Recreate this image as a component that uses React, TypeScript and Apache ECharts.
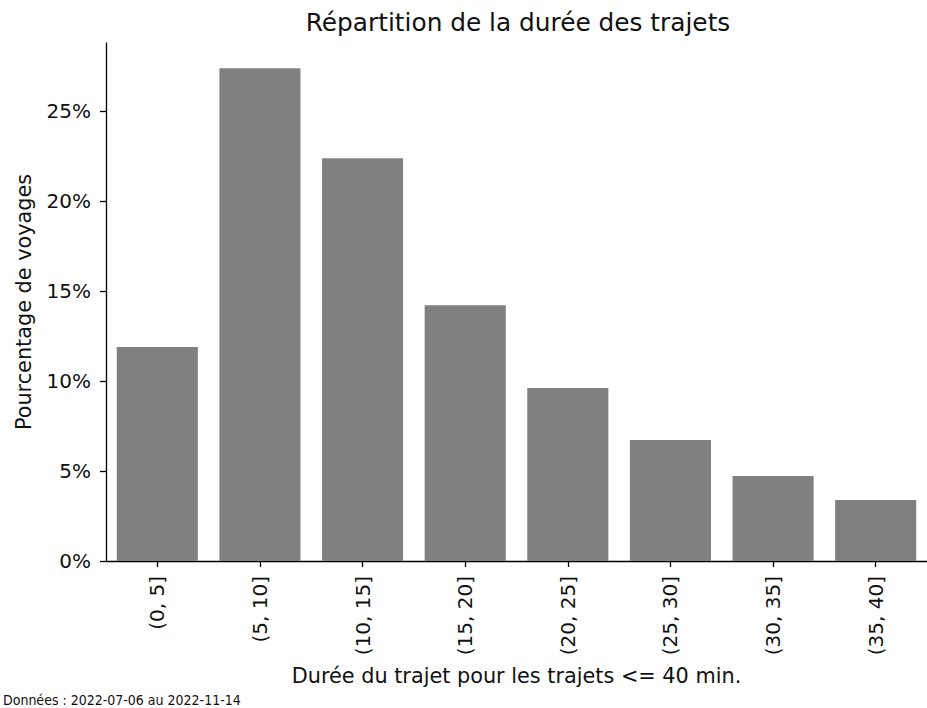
import React, { useEffect, useRef } from "react";
import * as echarts from "echarts";

const categories = ["(0, 5]", "(5, 10]", "(10, 15]", "(15, 20]", "(20, 25]", "(25, 30]", "(30, 35]", "(35, 40]"];
const percentages = [11.89, 27.39, 22.39, 14.22, 9.61, 6.72, 4.72, 3.39];
const yTicks = [0, 5, 10, 15, 20, 25];

const FONT = "'DejaVu Sans', sans-serif";

export default function App() {
  const ref = useRef<HTMLDivElement>(null);
  useEffect(() => {
    if (!ref.current) return;
    const chart = echarts.init(ref.current, null, { renderer: "svg" });
    chart.setOption({
      animation: false,
      backgroundColor: "#ffffff",
      textStyle: { fontFamily: FONT },
      grid: { left: 106, right: -4, top: 43, bottom: 147, containLabel: false },
      xAxis: {
        type: "category",
        data: categories,
        boundaryGap: true,
        name: "Durée du trajet pour les trajets <= 40 min.",
        nameLocation: "middle",
        nameGap: 104,
        nameTextStyle: { fontSize: 20.8, color: "#111", fontFamily: FONT },
        axisLine: { show: true, lineStyle: { color: "#000", width: 1.3 } },
        axisTick: { show: true, alignWithLabel: true, length: 6, lineStyle: { color: "#000", width: 1.3 } },
        axisLabel: { rotate: 90, margin: 15, fontSize: 20, color: "#111", fontFamily: FONT, interval: 0 },
        splitLine: { show: false },
      },
      yAxis: {
        type: "value",
        min: 0,
        max: 28.79,
        interval: 5,
        name: "Pourcentage de voyages",
        nameLocation: "middle",
        nameRotate: 90,
        nameGap: 72,
        nameTextStyle: { fontSize: 20.8, color: "#111", fontFamily: FONT },
        axisLine: { show: true, lineStyle: { color: "#000", width: 1.3 } },
        axisTick: { show: true, length: 6, customValues: yTicks, lineStyle: { color: "#000", width: 1.3 } },
        axisLabel: {
          customValues: yTicks,
          margin: 15,
          fontSize: 20,
          color: "#111",
          fontFamily: FONT,
          formatter: (v: number) => `${Math.round(v)}%`,
        },
        splitLine: { show: false },
      },
      series: [
        {
          type: "bar",
          data: percentages,
          barCategoryGap: "21%",
          itemStyle: { color: "#808080" },
        },
      ],
      graphic: [
        {
          type: "text",
          x: 518,
          y: 22,
          style: {
            text: "Répartition de la durée des trajets",
            fontSize: 24.8,
            fontFamily: FONT,
            fill: "#111",
            textAlign: "center",
            textVerticalAlign: "middle",
          },
        },
        {
          type: "text",
          x: 3,
          y: 700,
          style: {
            text: "Données : 2022-07-06 au 2022-11-14",
            fontSize: 14,
            fontFamily: "'DejaVu Sans Condensed', 'Liberation Sans Narrow', 'DejaVu Sans', sans-serif",
            fill: "#111",
            textAlign: "left",
            textVerticalAlign: "middle",
          },
        },
      ],
    });
    return () => chart.dispose();
  }, []);
  return (
    <div
      ref={ref}
      style={{ position: "fixed", left: 0, top: 0, width: 927, height: 708, overflow: "hidden" }}
    />
  );
}
